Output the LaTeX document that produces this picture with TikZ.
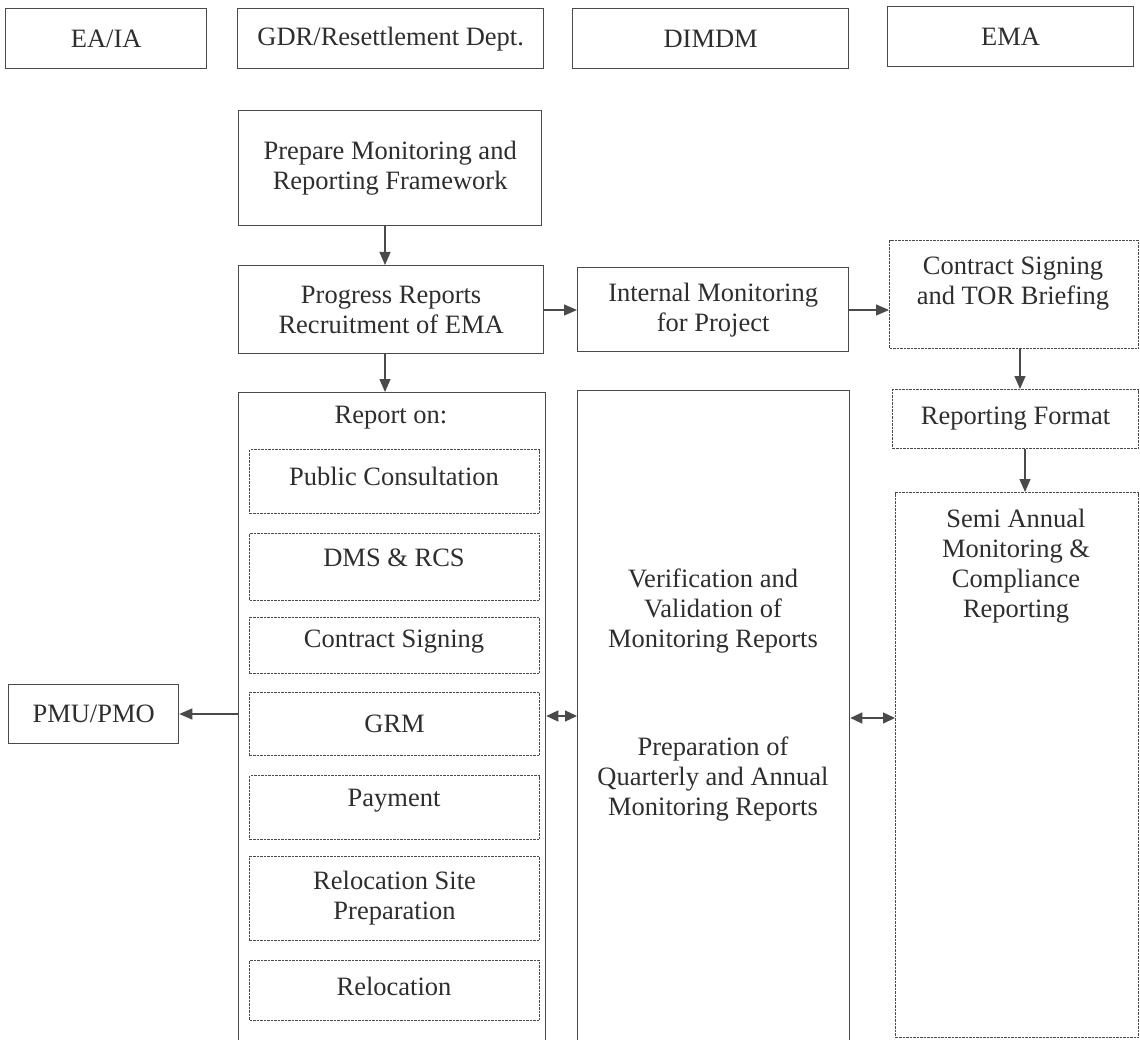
\documentclass[tikz,border=0pt]{standalone}
\usepackage{fontspec}
\setmainfont{Liberation Serif}
\usetikzlibrary{arrows.meta,calc}
\definecolor{linec}{HTML}{4A4A4A}
\definecolor{txtc}{HTML}{2E2E2E}
\newcommand\mybox[7]{\node[#2, anchor=north west, minimum width={#5-#3}, minimum height={#6-#4}] (#1) at (#3,#4) {#7};}
\tikzset{
  box/.style={draw=linec, line width=1.3pt, inner sep=0pt, align=center, text=txtc, font=\fontsize{26.5}{30}\selectfont},
  dbox/.style={box, line width=1.1pt, dash pattern=on 2.5pt off 1pt},
  txt/.style={inner sep=0pt, align=center, text=txtc, font=\fontsize{26.5}{30}\selectfont},
  arr/.style={draw=linec, line width=1.3pt, -{Triangle[length=13pt,width=11pt]}},
  darr/.style={draw=linec, line width=1.3pt, {Triangle[length=12pt,width=11pt]}-{Triangle[length=12pt,width=11pt]}}
}
\begin{document}
\begin{tikzpicture}[x=1pt,y=-1pt]
\useasboundingbox (0,0) rectangle (1140,1040);
\clip (0,0) rectangle (1140,1040);
\fill[white] (0,0) rectangle (1140,1040);
% header
\mybox{h1}{box}{5}{8}{206}{68}{EA/IA}
\mybox{h2}{box}{237}{8}{543}{68}{GDR/Resettlement Dept.}
\mybox{h3}{box}{572}{8}{848}{68}{DIMDM}
\mybox{h4}{box}{887}{6}{1133}{66}{EMA}
% GDR column
\mybox{prep}{box}{238}{110}{541}{225}{Prepare Monitoring and\\Reporting Framework}
\mybox{prog}{box}{238}{265}{543}{353}{Progress Reports\\Recruitment of EMA}
\mybox{gdr}{box}{238}{392}{545}{1060}{}
\node[txt] (reporton) at (391,418) {Report on:};
\mybox{pc}{dbox}{249}{449}{539}{513}{}
\node[txt] (pct) at (394,476) {Public Consultation};
\mybox{dms}{dbox}{249}{533}{539}{600}{}
\node[txt] (dmst) at (394,558) {DMS \& RCS};
\mybox{cs}{dbox}{249}{617}{539}{673}{}
\node[txt] (cst) at (394,642) {Contract Signing};
\mybox{grm}{dbox}{249}{692}{539}{755}{GRM}
\mybox{pay}{dbox}{249}{775}{539}{839}{}
\node[txt] (payt) at (394,801) {Payment};
\mybox{rsp}{dbox}{249}{856}{539}{940}{Relocation Site\\Preparation}
\mybox{rel}{dbox}{249}{960}{539}{1020}{}
\node[txt] (relt) at (394,986) {Relocation};
% PMU
\mybox{pmu}{box}{8}{684}{178}{743}{PMU/PMO}
% DIMDM column
\mybox{intm}{box}{577}{267}{848}{351}{Internal Monitoring\\for Project}
\mybox{dim}{box}{577}{390}{849}{1060}{}
\node[txt] (verif) at (713,611) {Verification and\\Validation of\\Monitoring Reports};
\node[txt] (prepq) at (713,779) {Preparation of\\Quarterly and Annual\\Monitoring Reports};
% EMA column
\mybox{csign}{dbox}{889}{240}{1138}{348}{}
\node[txt] (csignt) at (1013,284) {Contract Signing\\and TOR Briefing};
\mybox{rfmt}{dbox}{892}{389}{1138}{448}{Reporting Format}
\mybox{semi}{dbox}{895}{492}{1138}{1037}{}
\node[txt] (semit) at (1016,566) {Semi Annual\\Monitoring \&\\Compliance\\Reporting};
% connectors
\coordinate (c1) at (385,0);
\coordinate (c2) at (1020,0);
\coordinate (c3) at (1025,0);
\coordinate (r1) at (0,310);
\coordinate (m1) at (0,716);
\coordinate (m2) at (0,718);
\coordinate (m3) at (0,714);
\draw[arr] (c1 |- prep.south) -- (c1 |- prog.north);
\draw[arr] (c1 |- prog.south) -- (c1 |- gdr.north);
\draw[arr] (r1 -| prog.east) -- (r1 -| intm.west);
\draw[arr] (r1 -| intm.east) -- (r1 -| csign.west);
\draw[arr] (c2 |- csign.south) -- (c2 |- rfmt.north);
\draw[arr] (c3 |- rfmt.south) -- (c3 |- semi.north);
\draw[arr] (m3 -| gdr.west) -- (m3 -| pmu.east);
\draw[darr] (m1 -| gdr.east) -- (m1 -| dim.west);
\draw[darr] (m2 -| dim.east) -- (m2 -| semi.west);
\end{tikzpicture}
\end{document}
